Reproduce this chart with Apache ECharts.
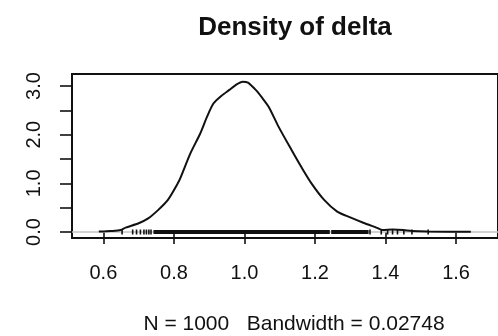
<!DOCTYPE html>
<html>
<head>
<meta charset="utf-8">
<style>
  html, body { margin: 0; padding: 0; background: #fff; }
  #chart { width: 498px; height: 336px; }
</style>
<script src="https://cdn.jsdelivr.net/npm/echarts@6/dist/echarts.min.js"></script>
</head>
<body>
<div id="chart"></div>
<script>
// Kernel density estimate of delta: [x, density]
const densityCurve = [
  [0.587, 0.01], [0.605, 0.015], [0.620, 0.02], [0.649, 0.04], [0.663, 0.09],
  [0.700, 0.18], [0.727, 0.28], [0.755, 0.45], [0.783, 0.66], [0.811, 1.00],
  [0.820, 1.14], [0.847, 1.62], [0.875, 2.03], [0.894, 2.37], [0.912, 2.64],
  [0.935, 2.80], [0.957, 2.92], [0.975, 3.02], [0.995, 3.09], [1.010, 3.07],
  [1.032, 2.92], [1.050, 2.76], [1.069, 2.57], [1.097, 2.16], [1.134, 1.68],
  [1.161, 1.34], [1.190, 1.00], [1.226, 0.66], [1.263, 0.42], [1.300, 0.30],
  [1.337, 0.19], [1.374, 0.09], [1.392, 0.04], [1.420, 0.05], [1.450, 0.04],
  [1.475, 0.02], [1.520, 0.01], [1.642, 0.005]
];

// Individual sample positions marked on the baseline
const rugSparse = [0.653, 0.683, 0.694, 0.705, 0.715, 0.722, 0.729, 0.735,
                   1.356, 1.388, 1.406, 1.420, 1.434, 1.452, 1.475, 1.521];
// Stretches where the sample marks merge into a solid band
const rugDense = [[0.742, 1.242], [1.246, 1.352]];

const xTicks = [0.6, 0.8, 1.0, 1.2, 1.4, 1.6];
const yTicks = [0, 0.5, 1.0, 1.5, 2.0, 2.5, 3.0];
const yLabels = [0, 1.0, 2.0, 3.0];

const titleText = 'Density of delta';
const subText = 'N = 1000   Bandwidth = 0.02748';

const xRange = [0.511, 1.719];
const yRange = [-0.123, 3.247];

const FONT = "'Liberation Sans', Arial, Helvetica, sans-serif";
const INK = '#111111';

const bandSeries = rugDense.map(function (seg) {
  return {
    type: 'line',
    data: [[seg[0], 0], [seg[1], 0]],
    symbol: 'none',
    silent: true,
    lineStyle: { color: INK, width: 4, cap: 'butt' },
    z: 4
  };
});

const chart = echarts.init(document.getElementById('chart'), null, { renderer: 'canvas' });
chart.setOption({
  animation: false,
  backgroundColor: '#ffffff',
  title: [
    {
      text: titleText,
      left: 290, top: 10, textAlign: 'center',
      textStyle: { fontFamily: FONT, fontWeight: 'bold', fontSize: 26, color: INK }
    },
    {
      text: subText,
      left: 289, top: 309, textAlign: 'center',
      textStyle: { fontFamily: FONT, fontWeight: 'normal', fontSize: 21, color: INK }
    }
  ],
  grid: {
    left: 72, top: 74, width: 436, height: 164,
    show: true, borderColor: INK, borderWidth: 2, backgroundColor: 'transparent'
  },
  xAxis: {
    type: 'value', min: xRange[0], max: xRange[1],
    splitLine: { show: false },
    axisLine: { show: false },
    axisTick: {
      show: true, length: 12, customValues: xTicks,
      lineStyle: { color: INK, width: 1.6 }
    },
    axisLabel: {
      show: true, margin: 25, customValues: xTicks,
      fontFamily: FONT, fontSize: 20, color: INK,
      formatter: function (v) { return v.toFixed(1); }
    }
  },
  yAxis: {
    type: 'value', min: yRange[0], max: yRange[1],
    splitLine: { show: false },
    axisLine: { show: false },
    axisTick: {
      show: true, length: 12, customValues: yTicks,
      lineStyle: { color: INK, width: 1.6 }
    },
    axisLabel: {
      show: true, margin: 28, rotate: 90, customValues: yLabels,
      fontFamily: FONT, fontSize: 20, color: INK,
      formatter: function (v) { return v.toFixed(1); }
    }
  },
  series: [
    {
      // grey reference line at zero density, across the whole plot
      type: 'line',
      data: [[xRange[0], 0], [xRange[1], 0]],
      symbol: 'none',
      silent: true,
      lineStyle: { color: '#c4c4c4', width: 1.5 },
      z: 1
    },
    {
      type: 'line',
      data: densityCurve,
      symbol: 'none',
      smooth: 0.25,
      lineStyle: { color: INK, width: 2 },
      z: 5
    },
    {
      type: 'scatter',
      data: rugSparse.map(function (v) { return [v, 0]; }),
      symbol: 'rect',
      symbolSize: [1.6, 5],
      silent: true,
      itemStyle: { color: INK, opacity: 1 },
      z: 4
    }
  ].concat(bandSeries)
});
</script>
</body>
</html>
